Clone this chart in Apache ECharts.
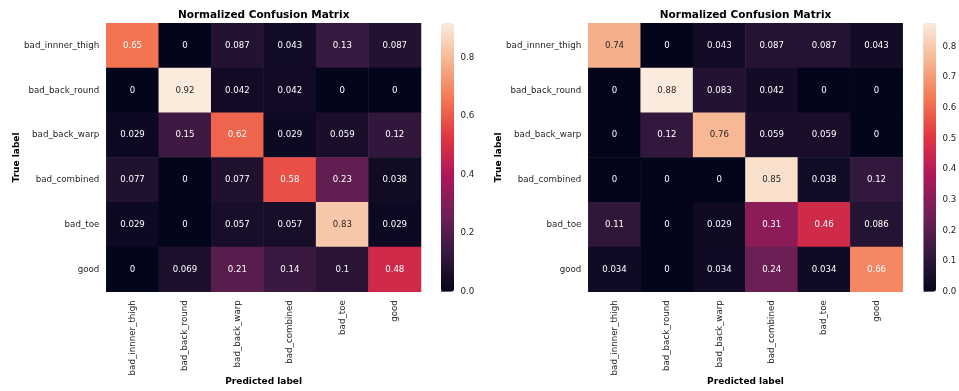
<!DOCTYPE html>
<html><head><meta charset="utf-8">
<script src="https://cdn.jsdelivr.net/npm/echarts@6/dist/echarts.min.js"></script>
<style>html,body{margin:0;padding:0;background:#fff}#c{width:959px;height:391px}</style>
</head><body><div id="c"></div>
<script>
const categories = ['bad_innner_thigh', 'bad_back_round', 'bad_back_warp', 'bad_combined', 'bad_toe', 'good'];
const leftValues = [
  [0.65, 0, 0.087, 0.043, 0.13, 0.087],
  [0, 0.92, 0.042, 0.042, 0, 0],
  [0.029, 0.15, 0.62, 0.029, 0.059, 0.12],
  [0.077, 0, 0.077, 0.58, 0.23, 0.038],
  [0.029, 0, 0.057, 0.057, 0.83, 0.029],
  [0, 0.069, 0.21, 0.14, 0.1, 0.48]
];
const rightValues = [
  [0.74, 0, 0.043, 0.087, 0.087, 0.043],
  [0, 0.88, 0.083, 0.042, 0, 0],
  [0, 0.12, 0.76, 0.059, 0.059, 0],
  [0, 0, 0, 0.85, 0.038, 0.12],
  [0.11, 0, 0.029, 0.31, 0.46, 0.086],
  [0.034, 0, 0.034, 0.24, 0.034, 0.66]
];
const leftColorMax = 0.9167;
const rightColorMax = 0.875;
const leftColorTicks = [0, 0.2, 0.4, 0.6, 0.8];
const rightColorTicks = [0, 0.1, 0.2, 0.3, 0.4, 0.5, 0.6, 0.7, 0.8];
const titleText = 'Normalized Confusion Matrix';
const xTitle = 'Predicted label';
const yTitle = 'True label';

const rocket = ['#03051a', '#35193e', '#701f57', '#ad1759', '#e13342', '#f37651', '#f6b48f', '#faebdd'];
const FONT = "'DejaVu Sans', sans-serif";
const TXT = '#262626';

function hexToRgb(h) { return [1, 3, 5].map(i => parseInt(h.substr(i, 2), 16) / 255); }
function colorAt(t) {
  t = Math.max(0, Math.min(1, t));
  const p = t * (rocket.length - 1);
  const i = Math.min(Math.floor(p), rocket.length - 2);
  const f = p - i;
  const a = hexToRgb(rocket[i]), b = hexToRgb(rocket[i + 1]);
  return a.map((v, k) => v + (b[k] - v) * f);
}
function lum(rgb) {
  const l = rgb.map(c => c <= 0.03928 ? c / 12.92 : Math.pow((c + 0.055) / 1.055, 2.4));
  return 0.2126 * l[0] + 0.7152 * l[1] + 0.0722 * l[2];
}
function fmt(v) { return String(Number(v.toPrecision(2))); }
function build(values, max) {
  const out = [];
  values.forEach((row, r) => row.forEach((v, c) => {
    out.push({ value: [c, r, v], label: { color: lum(colorAt(v / max)) < 0.408 ? '#ffffff' : TXT } });
  }));
  return out;
}

const G = [
  { left: 106.3, top: 23.3, width: 314.7, height: 268.4, outerBoundsMode: 'none', containLabel: false },
  { left: 588.3, top: 23.3, width: 314.4, height: 268.4, outerBoundsMode: 'none', containLabel: false },
  { left: 441, top: 23.3, width: 13, height: 268.4, outerBoundsMode: 'none', containLabel: false },
  { left: 923.3, top: 23.3, width: 12.7, height: 268.4, outerBoundsMode: 'none', containLabel: false }
];

function catX(gi) {
  return {
    type: 'category', gridIndex: gi, data: categories, position: 'bottom',
    axisLine: { show: false }, splitLine: { show: false },
    axisTick: { alignWithLabel: true, length: 3.5, lineStyle: { color: TXT, width: 0.8 } },
    axisLabel: { rotate: 90, fontSize: 8.7, color: TXT, margin: 8.5, fontFamily: FONT },
    name: xTitle, nameLocation: 'middle', nameGap: 85, nameMoveOverlap: false,
    nameTextStyle: { fontWeight: 'bold', fontSize: 9, color: '#000', fontFamily: FONT }
  };
}
function catY(gi) {
  return {
    type: 'category', gridIndex: gi, data: categories, inverse: true,
    axisLine: { show: false }, splitLine: { show: false },
    axisTick: { alignWithLabel: true, length: 3.5, lineStyle: { color: TXT, width: 0.8 } },
    axisLabel: { fontSize: 8.7, color: TXT, margin: 7, fontFamily: FONT },
    name: yTitle, nameLocation: 'middle', nameGap: 85, nameMoveOverlap: false,
    nameTextStyle: { fontWeight: 'bold', fontSize: 9, color: '#000', fontFamily: FONT }
  };
}
function cbY(gi, max, ticks) {
  return {
    type: 'value', gridIndex: gi, min: 0, max: max, position: 'right',
    axisLine: { show: false }, splitLine: { show: false },
    axisTick: { show: true, customValues: ticks, length: 3.5, lineStyle: { color: TXT, width: 0.8 } },
    axisLabel: { customValues: ticks, formatter: v => v.toFixed(1), fontSize: 8.7, color: TXT, margin: 6.5, fontFamily: FONT }
  };
}

const chart = echarts.init(document.getElementById('c'), null, { renderer: 'canvas' });
chart.setOption({
  backgroundColor: '#fff',
  animation: false,
  title: [
    { text: titleText, left: G[0].left + G[0].width / 2, top: 10, textAlign: 'center', padding: 0,
      textStyle: { fontSize: 10.5, fontWeight: 'bold', color: '#000', fontFamily: FONT } },
    { text: titleText, left: G[1].left + G[1].width / 2, top: 10, textAlign: 'center', padding: 0,
      textStyle: { fontSize: 10.5, fontWeight: 'bold', color: '#000', fontFamily: FONT } }
  ],
  grid: G,
  xAxis: [catX(0), catX(1), { type: 'value', gridIndex: 2, show: false }, { type: 'value', gridIndex: 3, show: false }],
  yAxis: [catY(0), catY(1), cbY(2, leftColorMax, leftColorTicks), cbY(3, rightColorMax, rightColorTicks)],
  visualMap: [
    { type: 'continuous', seriesIndex: 0, min: 0, max: leftColorMax, inRange: { color: rocket },
      left: G[2].left, top: G[2].top, itemWidth: G[2].width, itemHeight: G[2].height, padding: 0,
      borderWidth: 0, calculable: false, text: null, hoverLink: false, showLabel: false },
    { type: 'continuous', seriesIndex: 1, min: 0, max: rightColorMax, inRange: { color: rocket },
      left: G[3].left, top: G[3].top, itemWidth: G[3].width, itemHeight: G[3].height, padding: 0,
      borderWidth: 0, calculable: false, text: null, hoverLink: false, showLabel: false }
  ],
  series: [
    { type: 'heatmap', xAxisIndex: 0, yAxisIndex: 0, data: build(leftValues, leftColorMax),
      label: { show: true, fontSize: 8.6, fontFamily: FONT, formatter: p => fmt(p.value[2]) },
      emphasis: { disabled: true } },
    { type: 'heatmap', xAxisIndex: 1, yAxisIndex: 1, data: build(rightValues, rightColorMax),
      label: { show: true, fontSize: 8.6, fontFamily: FONT, formatter: p => fmt(p.value[2]) },
      emphasis: { disabled: true } }
  ]
});
</script></body></html>
